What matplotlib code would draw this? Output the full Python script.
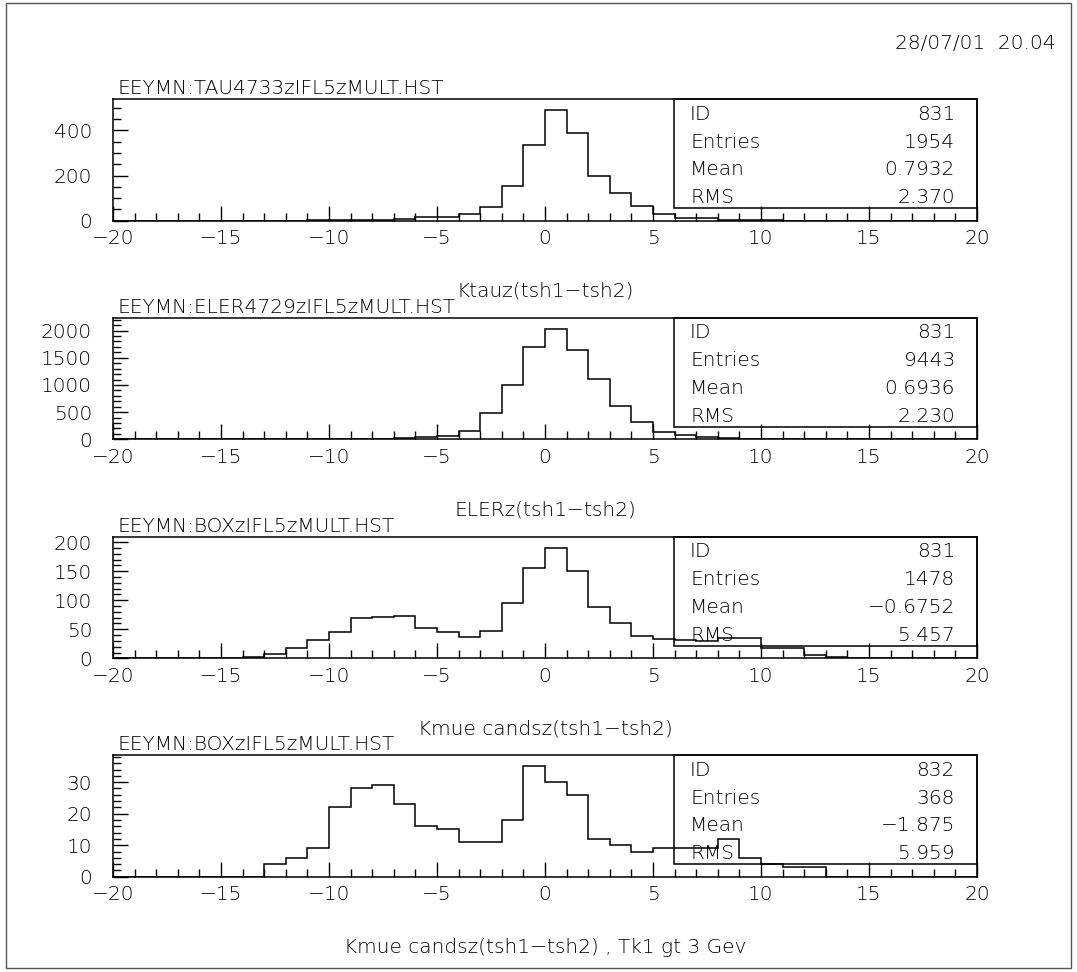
import numpy as np
import matplotlib
matplotlib.use("Agg")
import matplotlib.pyplot as plt
from matplotlib.patches import Rectangle
from matplotlib.ticker import MultipleLocator

plt.rcParams['font.family'] = ['DejaVu Sans']
plt.rcParams['font.weight'] = 200
plt.rcParams['axes.unicode_minus'] = True

# bin edges of all four histograms: 40 bins of width 1 from -20 to 20
bin_edges = np.arange(-20, 21)

# counts per bin
tau_counts = [0, 0, 0, 0, 0, 0, 0, 0,
              1, 2, 2, 3, 3, 9, 15, 15, 32, 59, 153, 335,
              488, 389, 199, 121, 65, 28, 13, 13, 3, 2, 2, 1,
              0, 0, 0, 0, 0, 0, 0, 0]
eler_counts = [0, 0, 0, 0, 0, 0, 0, 0, 0, 0,
               5, 10, 15, 25, 37, 55, 148, 480, 1002, 1697,
               2030, 1648, 1101, 615, 314, 129, 80, 45, 25, 15, 8, 5, 3, 2,
               0, 0, 0, 0, 0, 0]
box_counts = [0, 0, 0, 0, 0, 0,
              2, 8, 17, 31, 45, 70, 72, 73, 53, 46, 36, 47, 95, 155,
              190, 151, 88, 60, 38, 33, 31, 30, 35, 35, 18, 17, 5, 3,
              1, 0, 0, 0, 0, 0]
box_tk_counts = [0, 0, 0, 0, 0, 0, 0,
                 4, 6, 9, 22, 28, 29, 23, 16, 15, 11, 11, 18, 35,
                 30, 26, 12, 10, 8, 9, 9, 9, 12, 6, 4, 3, 3,
                 0, 0, 0, 0, 0, 0, 0]

file_names = ['EEYMN:TAU4733zIFL5zMULT.HST', 'EEYMN:ELER4729zIFL5zMULT.HST',
              'EEYMN:BOXzIFL5zMULT.HST', 'EEYMN:BOXzIFL5zMULT.HST']
hist_titles = ['Ktauz(tsh1\u2212tsh2)', 'ELERz(tsh1\u2212tsh2)',
               'Kmue candsz(tsh1\u2212tsh2)',
               'Kmue candsz(tsh1\u2212tsh2) , Tk1 gt 3 Gev']
hist_ids = ['831', '831', '831', '832']
entries = ['1954', '9443', '1478', '368']
means = ['0.7932', '0.6936', '\u22120.6752', '\u22121.875']
rms_values = ['2.370', '2.230', '5.457', '5.959']
y_major = [200, 500, 50, 10]
y_minor = [50, 100, 10, 2]

all_counts = [tau_counts, eler_counts, box_counts, box_tk_counts]

fig = plt.figure(figsize=(10.77, 9.72), dpi=100)
fig.patches.append(Rectangle((0.006, 0.004), 0.988, 0.993, transform=fig.transFigure,
                             fill=False, edgecolor='#555555', lw=1.0))
fig.text(0.980, 0.955, '28/07/01  20.04', ha='right', va='center', fontsize=14.5)

bottoms = [0.7729, 0.548, 0.3227, 0.098]
font_size = 14.5

for i, counts in enumerate(all_counts):
    ax = fig.add_axes([0.1049, bottoms[i], 0.8022, 0.1249])
    ax.stairs(counts, bin_edges, color='black', lw=1.1)
    ax.set_xlim(-20, 20)
    ax.set_ylim(0, 1.1 * max(counts))

    ax.xaxis.set_major_locator(MultipleLocator(5))
    ax.xaxis.set_minor_locator(MultipleLocator(1))
    ax.yaxis.set_major_locator(MultipleLocator(y_major[i]))
    ax.yaxis.set_minor_locator(MultipleLocator(y_minor[i]))
    ax.tick_params(which='both', direction='in', top=False, right=False,
                   labelsize=font_size, width=1.0)
    ax.tick_params(which='major', length=11)
    ax.tick_params(which='minor', length=5.5)
    ax.tick_params(axis='x', pad=6)
    ax.tick_params(axis='y', pad=15)
    for side in ax.spines.values():
        side.set_linewidth(1.1)

    # file name above the frame, histogram title below
    ax.text(0.005, 1.09, file_names[i], transform=ax.transAxes,
            ha='left', va='center', fontsize=font_size)
    ax.text(0.5, -0.58, hist_titles[i], transform=ax.transAxes,
            ha='center', va='center', fontsize=font_size)

    # statistics box
    ax.add_patch(Rectangle((0.649, 0.105), 0.351, 0.895, transform=ax.transAxes,
                           fill=False, edgecolor='black', lw=1.1, clip_on=False))
    rows = [('ID', hist_ids[i]), ('Entries', entries[i]),
            ('Mean', means[i]), ('RMS', rms_values[i])]
    for (name, val), yy in zip(rows, [0.876, 0.648, 0.42, 0.19]):
        ax.text(0.668, yy, name, transform=ax.transAxes, ha='left', va='center',
                fontsize=font_size)
        ax.text(0.9745, yy, val, transform=ax.transAxes, ha='right', va='center',
                fontsize=font_size)

fig.savefig('out.png', dpi=100)
